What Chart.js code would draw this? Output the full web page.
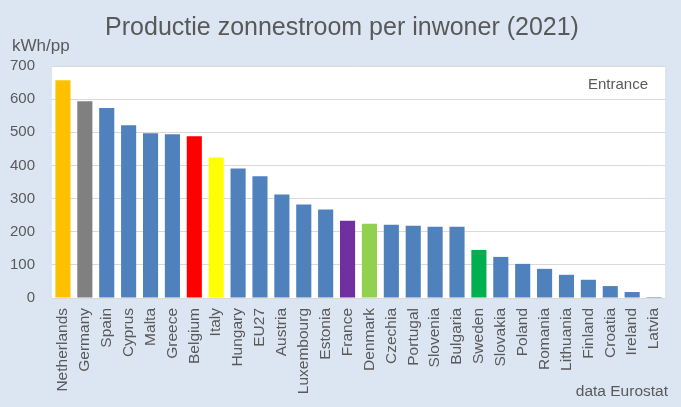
<!DOCTYPE html>
<html lang="nl">
<head>
    <meta charset="UTF-8">
    <title>Productie zonnestroom per inwoner (2021)</title>
    <script src="https://cdn.jsdelivr.net/npm/chart.js"></script>
    <style>
        html, body { margin: 0; padding: 0; background: #DCE6F2; }
        #wrap { width: 681px; height: 407px; position: relative; }
    </style>
</head>
<body>
    <div id="wrap"><canvas id="myChart"></canvas></div>

    <script>
        // data, kWh per person
        const countries = ["Netherlands", "Germany", "Spain", "Cyprus", "Malta", "Greece", "Belgium", "Italy",
            "Hungary", "EU27", "Austria", "Luxembourg", "Estonia", "France", "Denmark", "Czechia", "Portugal",
            "Slovenia", "Bulgaria", "Sweden", "Slovakia", "Poland", "Romania", "Lithuania", "Finland",
            "Croatia", "Ireland", "Latvia"];
        const kwhPerPerson = [657, 594, 573, 521, 497, 494, 488, 424, 391, 367, 312, 282, 267, 233, 224,
            221, 218, 215, 215, 145, 124, 103, 88, 70, 55, 36, 18, 3];
        const highlight = {
            "Netherlands": "#FFC000", "Germany": "#808080", "Belgium": "#FF0000", "Italy": "#FFFF00",
            "France": "#7030A0", "Denmark": "#92D050", "Sweden": "#00B050"
        };
        const yTicks = [0, 100, 200, 300, 400, 500, 600, 700];

        const textColor = "#595959";
        const font = "'Liberation Sans', Arial, sans-serif";

        // white plot area + the loose texts around the chart
        const decor = {
            id: "decor",
            beforeDraw(chart) {
                const c = chart.ctx, a = chart.chartArea;
                c.save();
                c.fillStyle = "#DCE6F2";
                c.fillRect(0, 0, chart.width, chart.height);
                c.fillStyle = "#FFFFFF";
                c.fillRect(a.left, a.top, a.right - a.left, a.bottom - a.top);
                c.restore();
            },
            afterDraw(chart) {
                const c = chart.ctx;
                c.save();
                c.fillStyle = textColor;
                c.textBaseline = "alphabetic";
                c.font = "25px " + font;
                c.textAlign = "center";
                c.fillText("Productie zonnestroom per inwoner (2021)", 342, 35);
                c.font = "17px " + font;
                c.textAlign = "left";
                c.fillText("kWh/pp", 12, 51);
                c.font = "15px " + font;
                c.textAlign = "right";
                c.fillText("Entrance", 648, 89);
                c.font = "15.5px " + font;
                c.fillText("data Eurostat", 668, 396);
                c.restore();
            }
        };

        const ctx = document.getElementById('myChart').getContext('2d');
        const myChart = new Chart(ctx, {
            type: 'bar',
            data: {
                labels: countries,
                datasets: [{
                    data: kwhPerPerson,
                    backgroundColor: countries.map(c => highlight[c] || "#4F81BD"),
                    barPercentage: 0.69,
                    categoryPercentage: 1.0
                }]
            },
            options: {
                responsive: true,
                maintainAspectRatio: false,
                animation: false,
                layout: { padding: { left: 0, right: 16, top: 66, bottom: 0 } },
                plugins: {
                    legend: { display: false },
                    tooltip: { enabled: false }
                },
                scales: {
                    x: {
                        grid: { display: false },
                        border: { color: "#D9D9D9", width: 1 },
                        ticks: {
                            color: textColor,
                            font: { family: font, size: 15.5 },
                            minRotation: 90,
                            maxRotation: 90,
                            autoSkip: false,
                            padding: 2
                        },
                        afterFit(scale) { scale.height = 109; }
                    },
                    y: {
                        min: 0,
                        max: 700,
                        afterBuildTicks(scale) { scale.ticks = yTicks.map(v => ({ value: v })); },
                        grid: { color: "#D9D9D9", lineWidth: 1, drawTicks: false },
                        border: { display: false },
                        ticks: {
                            color: textColor,
                            font: { family: font, size: 15 },
                            padding: 17
                        },
                        afterFit(scale) { scale.width = 52; }
                    }
                }
            },
            plugins: [decor]
        });
    </script>
</body>
</html>
